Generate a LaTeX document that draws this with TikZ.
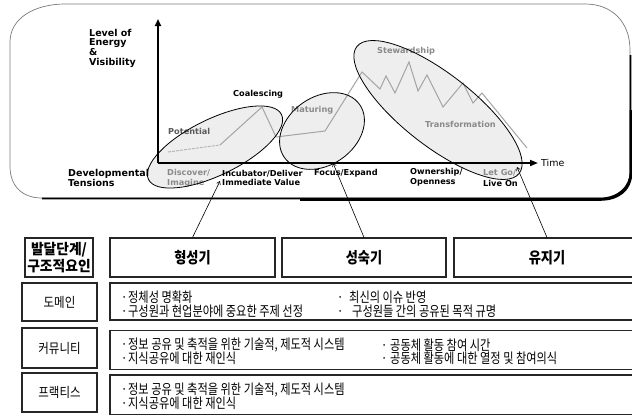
\documentclass[tikz,border=0pt]{standalone}
\usepackage{fontspec}
\setmainfont{DejaVu Sans}
\newfontfamily\dv{DejaVu Sans}
\newfontfamily\kr[FakeStretch=0.85]{Noto Sans CJK KR}
\newfontfamily\krc[FakeStretch=0.8]{Noto Sans CJK KR}
\newfontfamily\krw[FakeStretch=0.95]{Noto Sans CJK KR}
\usetikzlibrary{arrows.meta}
\definecolor{efill}{HTML}{EAEAEA}
\definecolor{gline}{HTML}{A4A4A4}
\definecolor{glab}{HTML}{8A8A8A}
\definecolor{dlab}{HTML}{5A5A5A}
\definecolor{boxc}{HTML}{262626}
\definecolor{framec}{HTML}{7A7A7A}
\tikzset{
  lab/.style={font=\dv\bfseries\fontsize{8.2}{9.6}\selectfont, anchor=west, inner sep=0, align=left},
  biglab/.style={font=\dv\bfseries\fontsize{9.5}{9.7}\selectfont, anchor=west, inner sep=0, align=left},
  tbox/.style={draw=boxc, line width=1.1pt, inner sep=0, minimum height=39pt},
  hdr/.style={tbox, font=\kr\bfseries\fontsize{15.5}{17}\selectfont},
  rowlab/.style={tbox, font=\kr\fontsize{13.5}{15}\selectfont},
  cbox/.style={draw=boxc, line width=1.1pt, inner sep=0},
  item/.style={font=\krc\fontsize{14}{14}\selectfont, anchor=west, inner sep=0},
  conn/.style={line width=0.6pt, {Straight Barb[length=3pt,width=4pt]}-},
  ell/.style={draw=black, line width=0.8pt},
}
\begin{document}
\begin{tikzpicture}[x=1pt,y=-1pt]
\path[use as bounding box] (0,0) rectangle (632,415);
\clip (0,0) rectangle (632,415);
\fill[white] (0,0) rectangle (632,415);

% frame
\draw[framec, line width=0.7pt] (65,4) -- (585,4) .. controls (612,4) and (630,22) .. (630,50) -- (630,172) .. controls (630,187) and (618,198) .. (600,198) -- (42,198) .. controls (22,198) and (10,186) .. (10,166) -- (10,42) .. controls (10,18) and (35,4) .. (65,4) -- cycle;
\draw[black, line width=1.6pt] (630.5,55) -- (630.5,172) .. controls (630.5,187) and (618,198.5) .. (600,198.5) -- (42,198.5);
\draw[black, line width=2.6pt] (631,110) -- (631,173) .. controls (631,189) and (619,199.5) .. (600,199.5) -- (300,199.5);

% ellipse fills
\fill[efill, opacity=0.8, rotate around={26:(215,147)}] (215,147) ellipse (74 and 28);
\fill[efill, opacity=0.8, rotate around={35:(322,131)}] (322,131) ellipse (46 and 34);
\fill[efill, opacity=0.8, rotate around={-38:(438,110)}] (438,110) ellipse (103 and 36);

% axes
\coordinate (o) at (158,163);
\coordinate (ytop) at (158,19);
\coordinate (xend) at (538,163);
\draw[line width=1.7pt, -{Triangle[length=7pt,width=6pt]}] (o) -- (ytop);
\draw[line width=1.7pt, -{Triangle[length=8pt,width=6pt]}] (o) -- (xend);

% curve
\draw[gline!80, line width=1pt, dash pattern=on 3pt off 1pt] (168,152) -- (220,145);
\draw[gline, line width=1pt, line join=miter] (220,145) -- (262,107) -- (276,137) -- (325,131) -- (362,72) -- (380,89) -- (386,76) -- (395,93) -- (409,62) -- (418,91) -- (427,75) -- (443,107) -- (463,83) -- (473,103) -- (482,93) -- (527,148);

% labels
\node[biglab] (lv) at (89,48) {Level of\\Energy\\\&\\Visibility};
\node[biglab] (dt) at (68,178) {Developmental\\Tensions};
\node[lab, text=glab] (di) at (167,178) {Discover/\\Imagine};
\node[lab] (in) at (222,178) {Incubator/Deliver\\Immediate Value};
\node[lab] (fe) at (314,173) {Focus/Expand};
\node[lab] (ow) at (410,177) {Ownership/\\Openness};
\node[lab, text=glab] (lg) at (483,173) {Let Go/};
\node[lab] (lo) at (483,183) {Live On};
\node[font=\dv\fontsize{9.5}{11}\selectfont, anchor=west, inner sep=0] (tm) at (541,163) {Time};
\node[lab] (co) at (233,94) {Coalescing};
\node[lab, text=dlab] (po) at (168,131) {Potential};
\node[lab, text=glab] (ma) at (291,110) {Maturing};
\node[lab, text=glab] (st) at (377,51) {Stewardship};
\node[lab, text=glab] (tr) at (425,124) {Transformation};

% ellipse outlines
\draw[ell, rotate around={26:(215,147)}] (215,147) ellipse (74 and 28);
\draw[ell, rotate around={35:(322,131)}] (322,131) ellipse (46 and 34);
\draw[ell, rotate around={-38:(438,110)}] (438,110) ellipse (103 and 36);

% table header
\node[tbox, minimum width=68pt, line width=1.8pt, align=center, font=\krw\bfseries\fontsize{14.5}{17.5}\selectfont] (h0) at (59,257.5) {발달단계/\\구조적요인};
\node[hdr, minimum width=165pt] (b1) at (192.5,257.5) {형성기};
\node[hdr, minimum width=164pt] (b2) at (364,257.5) {성숙기};
\node[hdr, minimum width=186pt] (b3) at (547,257.5) {유지기};

% row labels
\node[rowlab, minimum width=75pt, minimum height=38pt] (r1) at (59.5,302) {도메인};
\node[rowlab, minimum width=75pt, minimum height=40pt] (r2) at (59.5,348) {커뮤니티};
\node[rowlab, minimum width=75pt, minimum height=39pt] (r3) at (59.5,392.5) {프랙티스};

% content boxes
\node[cbox, minimum width=530pt, minimum height=37pt] (c1) at (375,301.5) {};
\node[cbox, minimum width=530pt, minimum height=39pt] (c2) at (375,350) {};
\node[cbox, minimum width=530pt, minimum height=40pt] (c3) at (375,395) {};

% content text
\node[item] (t11) at (121,297) {\makebox[7pt][l]{·}정체성 명확화};
\node[item] (t12) at (121,311) {\makebox[7pt][l]{·}구성원과 현업분야에 중요한 주제 선정};
\node[item] (t13) at (337,297) {\makebox[12pt][l]{·}최신의 이슈 반영};
\node[item] (t14) at (337,311) {\makebox[15pt][l]{·}구성원들 간의 공유된 목적 규명};
\node[item] (t21) at (121,345) {\makebox[7pt][l]{·}정보 공유 및 축적을 위한 기술적, 제도적 시스템};
\node[item] (t22) at (121,358) {\makebox[7pt][l]{·}지식공유에 대한 재인식};
\node[item] (t23) at (381,345) {\makebox[9pt][l]{·}공동체 활동 참여 시간};
\node[item] (t24) at (381,358) {\makebox[9pt][l]{·}공동체 활동에 대한 열정 및 참여의식};
\node[item] (t31) at (121,390) {\makebox[7pt][l]{·}정보 공유 및 축적을 위한 기술적, 제도적 시스템};
\node[item] (t32) at (121,403) {\makebox[7pt][l]{·}지식공유에 대한 재인식};

% connectors
\coordinate (s1) at (220,181);
\coordinate (s2) at (333,163);
\coordinate (s3) at (517,167);
\draw[conn] (s1) -- (b1.north);
\draw[conn] (s2) -- (b2.north);
\draw[conn] (s3) -- (b3.north);
\end{tikzpicture}
\end{document}
